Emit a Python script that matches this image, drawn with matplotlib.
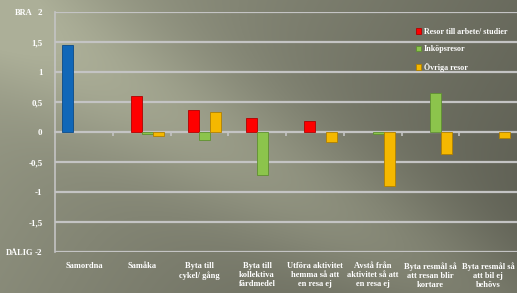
import numpy as np
import matplotlib
matplotlib.use("Agg")
from matplotlib import pyplot as plt

# data (nan = no bar)
nan = np.nan
categories = ["Samordna", "Samåka", "Byta till\ncykel/ gång",
              "Byta till\nkollektiva\nfärdmedel",
              "Utföra aktivitet\nhemma så att\nen resa ej",
              "Avstå från\naktivitet så att\nen resa ej",
              "Byta resmål så\natt resan blir\nkortare",
              "Byta resmål så\natt bil ej\nbehövs"]
samordna = [1.45, nan, nan, nan, nan, nan, nan, nan]
arbete = [nan, 0.60, 0.37, 0.23, 0.18, nan, nan, nan]
inkop = [nan, -0.04, -0.13, -0.72, nan, -0.03, 0.65, nan]
ovriga = [nan, -0.06, 0.33, nan, -0.16, -0.90, -0.37, -0.10]
series_names = ["", "Resor till arbete/ studier", "Inköpsresor", "Övriga resor"]
colors = ["#1067b8", "#fe0000", "#8cc44c", "#f5b800"]
edges = ["#0a4a88", "#b00000", "#5f9030", "#b08000"]
yticks = [2, 1.5, 1, 0.5, 0, -0.5, -1, -1.5, -2]

fig = plt.figure(figsize=(5.17, 2.93), dpi=100)

# background gradient with a light diagonal streak
bg = fig.add_axes([0, 0, 1, 1], zorder=-2)
h, w = 293, 517
yy, xx = np.mgrid[0:h, 0:w]
t = 1 - xx / w * 0.75 - yy / h * 0.25
d = (yy - 0.6 * xx) / np.sqrt(1 + 0.36)
band = np.exp(-((d - 10) / 70) ** 2) * 0.35
t = np.clip(t * 0.75 + band, 0, 1)
light = np.array([172, 175, 152]) / 255
dark = np.array([90, 91, 80]) / 255
img = dark + (light - dark) * t[..., None]
bg.imshow(img, aspect="auto", extent=[0, 1, 0, 1])
bg.axis("off")

ax = fig.add_axes([55 / 517, 1 - 252 / 293, 462 / 517, 240 / 293])
ax.patch.set_alpha(0)

x = np.arange(len(categories))
bw = 0.19
all_vals = [samordna, arbete, inkop, ovriga]
for k, vals in enumerate(all_vals):
    off = (k - 1.5) * bw
    ax.bar(x + off, vals, width=bw, color=colors[k], edgecolor=edges[k],
           linewidth=0.6, zorder=3, label=series_names[k] if k else "_nolegend_")

ax.set_xlim(-0.5, 7.5)
ax.set_ylim(-2, 2)
ax.set_yticks(yticks)
ax.set_yticklabels([str(v).replace(".", ",").replace(",0", "") if v != 0 else "0"
                    for v in yticks], color="white", fontsize=6.5,
                   family="Liberation Serif", fontweight="bold")
ax.tick_params(axis="y", length=0, pad=9)
ax.grid(axis="y", color="#c4c4c4", linewidth=1.6, zorder=0)
for s in ["top", "right"]:
    ax.spines[s].set_visible(False)
ax.spines["left"].set_color("#c4c4c4")
ax.spines["left"].set_linewidth(1.2)
ax.spines["bottom"].set_position(("data", 0))
ax.spines["bottom"].set_color("#c4c4c4")
ax.spines["bottom"].set_linewidth(1.2)
ax.set_xticks(np.arange(0.5, 7.5, 1))
ax.set_xticklabels([])
ax.tick_params(axis="x", length=3, color="#c4c4c4", width=1.2)

for i, c in enumerate(categories):
    ax.text(i, -2.17, c, ha="center", va="top", color="white", fontsize=6,
            family="Liberation Serif", fontweight="bold", linespacing=1.15)

fig.text(15 / 517, 1 - 13 / 293, "BRA", color="white", fontsize=6,
         family="Liberation Serif", fontweight="bold", va="center")
fig.text(6 / 517, 1 - 253 / 293, "DÅLIG", color="white", fontsize=6,
         family="Liberation Serif", fontweight="bold", va="center")

leg = ax.legend(loc="upper left", bbox_to_anchor=(0.765, 0.965), frameon=False,
                handlelength=0.7, handleheight=0.7,
                labelspacing=1.2, handletextpad=0.3,
                prop={"family": "Liberation Serif", "weight": "bold", "size": 5.8})
for t_ in leg.get_texts():
    t_.set_color("white")

fig.savefig("out.png", dpi=100)
